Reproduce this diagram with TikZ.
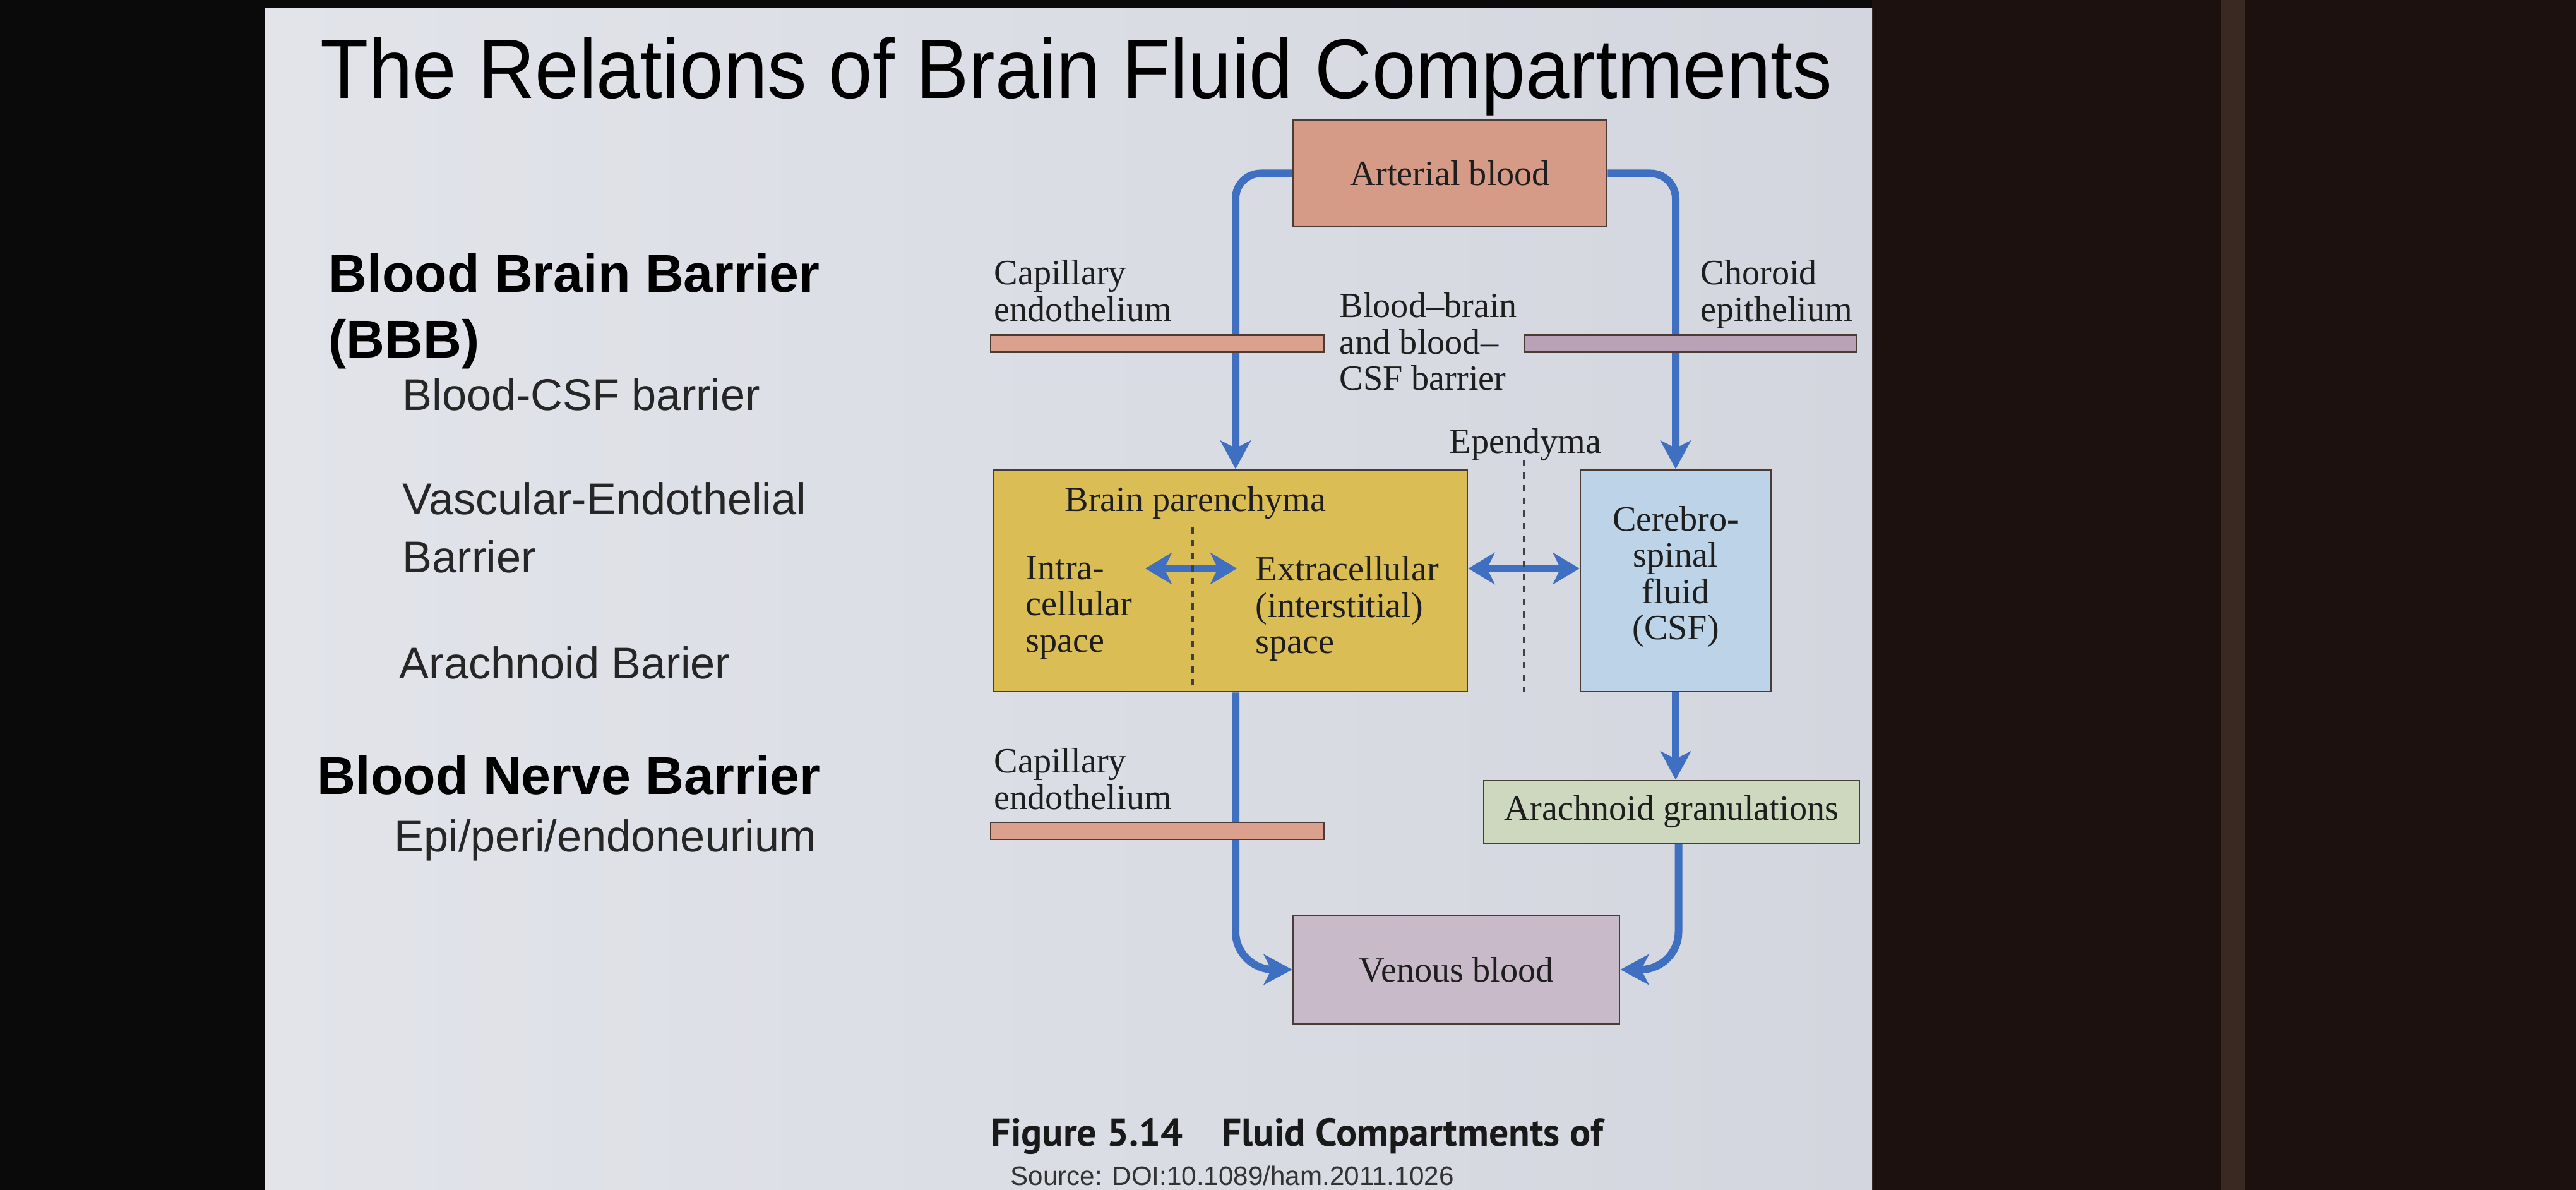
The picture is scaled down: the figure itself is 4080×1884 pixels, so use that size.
\documentclass[tikz,border=0pt]{standalone}
\usepackage{fontspec}
\usepackage{graphicx}
\setmainfont{Liberation Serif}
\newfontfamily\arialf{Liberation Sans}
\newfontfamily\capf{PT Sans}
\usetikzlibrary{arrows.meta}
\definecolor{slideL}{HTML}{E2E4EA}
\definecolor{slideR}{HTML}{D3D6DE}
\definecolor{rightdark}{HTML}{1C110E}
\definecolor{bandc}{HTML}{3A2822}
\definecolor{artc}{HTML}{D69B87}
\definecolor{barLc}{HTML}{DBA08E}
\definecolor{barRc}{HTML}{B9A2B5}
\definecolor{parc}{HTML}{DABE55}
\definecolor{csfc}{HTML}{BDD4E8}
\definecolor{arachc}{HTML}{CDD8BF}
\definecolor{venc}{HTML}{C8BAC9}
\definecolor{flowblue}{HTML}{3F6FC0}
\definecolor{boxline}{HTML}{4A3C34}
\definecolor{textc}{HTML}{1E1E1E}
\tikzset{
  dfont/.style={font=\fontsize{16}{16.3}\selectfont},
  box/.style={draw=boxline, line width=0.8pt, inner sep=0pt, text=textc, dfont},
  lbl/.style={inner sep=0pt, text=textc, dfont, align=left},
  flow/.style={draw=flowblue, line width=1.2mm, -{Stealth[length=4.5mm,width=4.8mm,inset=1.2mm]}},
  twoway/.style={draw=flowblue, line width=1.2mm, {Stealth[length=4.2mm,width=5mm,inset=1.2mm]}-{Stealth[length=4.2mm,width=5mm,inset=1.2mm]}},
  barbox/.style={draw=boxline, line width=0.8pt, inner sep=0pt, minimum height=2.7mm},
  dashline/.style={draw=black!75, line width=0.4mm, dash pattern=on 1mm off 1mm},
  head/.style={inner sep=0pt, anchor=base west, text=black, font=\arialf\bfseries\fontsize{24}{29}\selectfont},
  sub/.style={inner sep=0pt, text=black!85, align=left, font=\arialf\fontsize{20}{26}\selectfont},
}
\begin{document}
\begin{tikzpicture}[x=0.1mm,y=-0.1mm]
\useasboundingbox (0,0) rectangle (4080,1884);
% photo background
\fill[black!96] (0,0) rectangle (4080,1884);
\fill[rightdark] (2965,0) rectangle (4080,1884);
\fill[bandc] (3518,0) rectangle (3555,1884);
\shade[left color=slideL, right color=slideR] (420,13) rectangle (2965,1884);

% title
\node[anchor=base west, inner sep=0pt, text=black, font=\arialf\fontsize{38}{44}\selectfont] (title) at (507,156) {\scalebox{0.935}[1]{The Relations of Brain Fluid Compartments}};

% left list
\node[head] (bbb) at (520,463) {Blood Brain Barrier};
\node[head] (bbb2) at (520,567) {(BBB)};
\node[sub, anchor=base west] (bcsf) at (637,650) {Blood-CSF barrier};
\node[sub, anchor=north west] (vasc) at (637,763) {Vascular-Endothelial\\Barrier};
\node[sub, anchor=base west] (arb) at (632,1074) {Arachnoid Barier};
\node[head] (bnb) at (502,1257) {Blood Nerve Barrier};
\node[sub, anchor=base west] (epi) at (624,1348) {Epi/peri/endoneurium};

% boxes
\node[box, fill=artc, minimum width=49.7mm, minimum height=16.9mm] (art) at (2296.5,274.5) {Arterial blood};
\node[box, fill=parc, minimum width=75mm, minimum height=35.1mm] (par) at (1949,919.5) {};
\node[box, fill=csfc, minimum width=30.2mm, minimum height=35.1mm] (csf) at (2654,919.5) {};
\node[box, fill=arachc, minimum width=59.5mm, minimum height=9.9mm] (arach) at (2647.5,1285.5) {Arachnoid granulations};
\node[box, fill=venc, minimum width=51.7mm, minimum height=17.2mm] (ven) at (2306.5,1535) {Venous blood};

% flows
\draw[flow, rounded corners=4mm] (art.west) -| ([xshift=0.8mm]par.north);
\draw[flow, rounded corners=4mm] (art.east) -| (csf.north);
\draw[flow, rounded corners=6mm] ([xshift=0.8mm]par.south) |- (ven.west);
\draw[flow] (csf.south) -- (csf.south |- arach.north);
\draw[flow, rounded corners=6mm] ([xshift=1.1mm]arach.south) |- (ven.east);

% barrier bars
\node[barbox, fill=barLc, minimum width=52.8mm] (barL) at (1833,544) {};
\node[barbox, fill=barRc, minimum width=52.5mm] (barR) at (2677.5,544) {};
\node[barbox, fill=barLc, minimum width=52.8mm] (barL2) at (1833,1315.5) {};

% exchange arrows
\coordinate (ia) at (1814,900);
\coordinate (ib) at (1959,900);
\draw[twoway] (ia) -- (ib);
\draw[twoway] (par.east |- ia) -- (csf.west |- ia);

% dashed boundaries
\coordinate (epT) at (2414,728);
\coordinate (icT) at (1889,835);
\draw[dashline] (epT) -- (epT |- par.south);
\draw[dashline] (icT) -- (icT |- par.south);

% labels
\node[lbl, anchor=north west] (capT) at (1574,411) {Capillary\\endothelium};
\node[lbl, anchor=north west] (bbl) at (2121,463) {Blood--brain\\and blood--\\CSF barrier};
\node[lbl, anchor=north west] (chor) at (2693,411) {Choroid\\epithelium};
\node[lbl, anchor=base] (epen) at (2416,718) {Ependyma};
\node[lbl, anchor=base west] (bpar) at (1686,810) {Brain parenchyma};
\node[lbl, anchor=north west] (intra) at (1624,880) {Intra-\\cellular\\space};
\node[lbl, anchor=north west] (extra) at (1988,880) {Extracellular\\(interstitial)\\space};
\node[lbl, align=center] (csft) at (2654,913) {Cerebro-\\spinal\\fluid\\(CSF)};
\node[lbl, anchor=north west] (capB) at (1574,1184) {Capillary\\endothelium};

% caption
\node[anchor=base west, inner sep=0pt, text=black!90, font=\capf\bfseries\fontsize{17.6}{20}\selectfont] (cap) at (1569,1814) {Figure 5.14\quad Fluid Compartments of};
\node[anchor=base west, inner sep=0pt, text=black!80, font=\arialf\fontsize{12}{14}\selectfont] (src) at (1600,1876) {Source: DOI:10.1089/ham.2011.1026};
\end{tikzpicture}
\end{document}
